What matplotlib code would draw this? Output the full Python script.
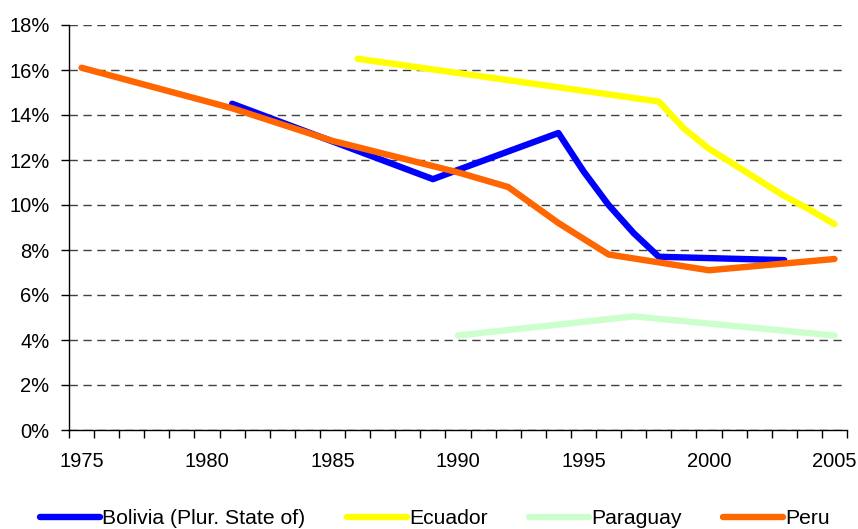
import matplotlib
matplotlib.use("Agg")
import matplotlib.pyplot as plt
from matplotlib.ticker import FixedLocator, FuncFormatter

# unemployment-style rates by country, % (years without data are simply left out)
bolivia_years = [1981, 1989, 1994, 1995, 1996, 1997, 1998, 2003]
bolivia_vals = [14.5, 11.15, 13.2, 11.5, 10.0, 8.75, 7.7, 7.55]

ecuador_years = [1986, 1998, 1999, 2000, 2001, 2002, 2003, 2004, 2005]
ecuador_vals = [16.5, 14.6, 13.4, 12.5, 11.8, 11.1, 10.4, 9.8, 9.15]

paraguay_years = [1990, 1997, 2005]
paraguay_vals = [4.2, 5.05, 4.2]

peru_years = [1975, 1981, 1985, 1990, 1992, 1994, 1996, 2000, 2005]
peru_vals = [16.1, 14.3, 12.85, 11.45, 10.8, 9.2, 7.8, 7.1, 7.6]

series = [
    ("Bolivia (Plur. State of)", bolivia_years, bolivia_vals, "#0000ff"),
    ("Ecuador", ecuador_years, ecuador_vals, "#ffff00"),
    ("Paraguay", paraguay_years, paraguay_vals, "#ccffcc"),
    ("Peru", peru_years, peru_vals, "#ff6600"),
]

year_labels = [1975, 1980, 1985, 1990, 1995, 2000, 2005]
y_ticks = list(range(0, 19, 2))

plt.rcParams["font.family"] = ["Liberation Sans", "DejaVu Sans"]

fig = plt.figure(figsize=(8.58, 5.29), dpi=100)
ax = fig.add_axes([69 / 858, 99 / 529, 778 / 858, 405 / 529])

for name, xs, ys, col in series:
    ax.plot(xs, ys, color=col, lw=4.6, label=name,
            solid_capstyle="round", solid_joinstyle="round")

ax.set_xlim(1974.5, 2005.5)
ax.set_ylim(0, 18)

# category-style x axis: tick marks between years, labels every 5 years
ax.xaxis.set_major_locator(FixedLocator(year_labels))
ax.xaxis.set_minor_locator(FixedLocator([y + 0.5 for y in range(1974, 2006)]))
ax.tick_params(axis="x", which="major", length=0, pad=16, labelsize=14.5)
ax.tick_params(axis="x", which="minor", length=6, width=1, direction="out")

ax.set_yticks(y_ticks)
ax.yaxis.set_major_formatter(FuncFormatter(lambda v, _: f"{v:.0f}%"))
ax.tick_params(axis="y", length=6, width=1, direction="out", pad=8, labelsize=14.5)

ax.grid(axis="y", color="#404040", linestyle=(0, (6, 4)), linewidth=1)
ax.set_axisbelow(True)
for side in ("top", "right"):
    ax.spines[side].set_visible(False)
for side in ("left", "bottom"):
    ax.spines[side].set_linewidth(1)
    ax.spines[side].set_color("black")

fig.legend(loc="lower left", bbox_to_anchor=(40 / 858, 0.002), ncol=4,
           frameon=False, fontsize=15.2, handlelength=2.84, handletextpad=0.12,
           columnspacing=1.94, borderaxespad=0, borderpad=0)

fig.savefig("out.png", dpi=100)
